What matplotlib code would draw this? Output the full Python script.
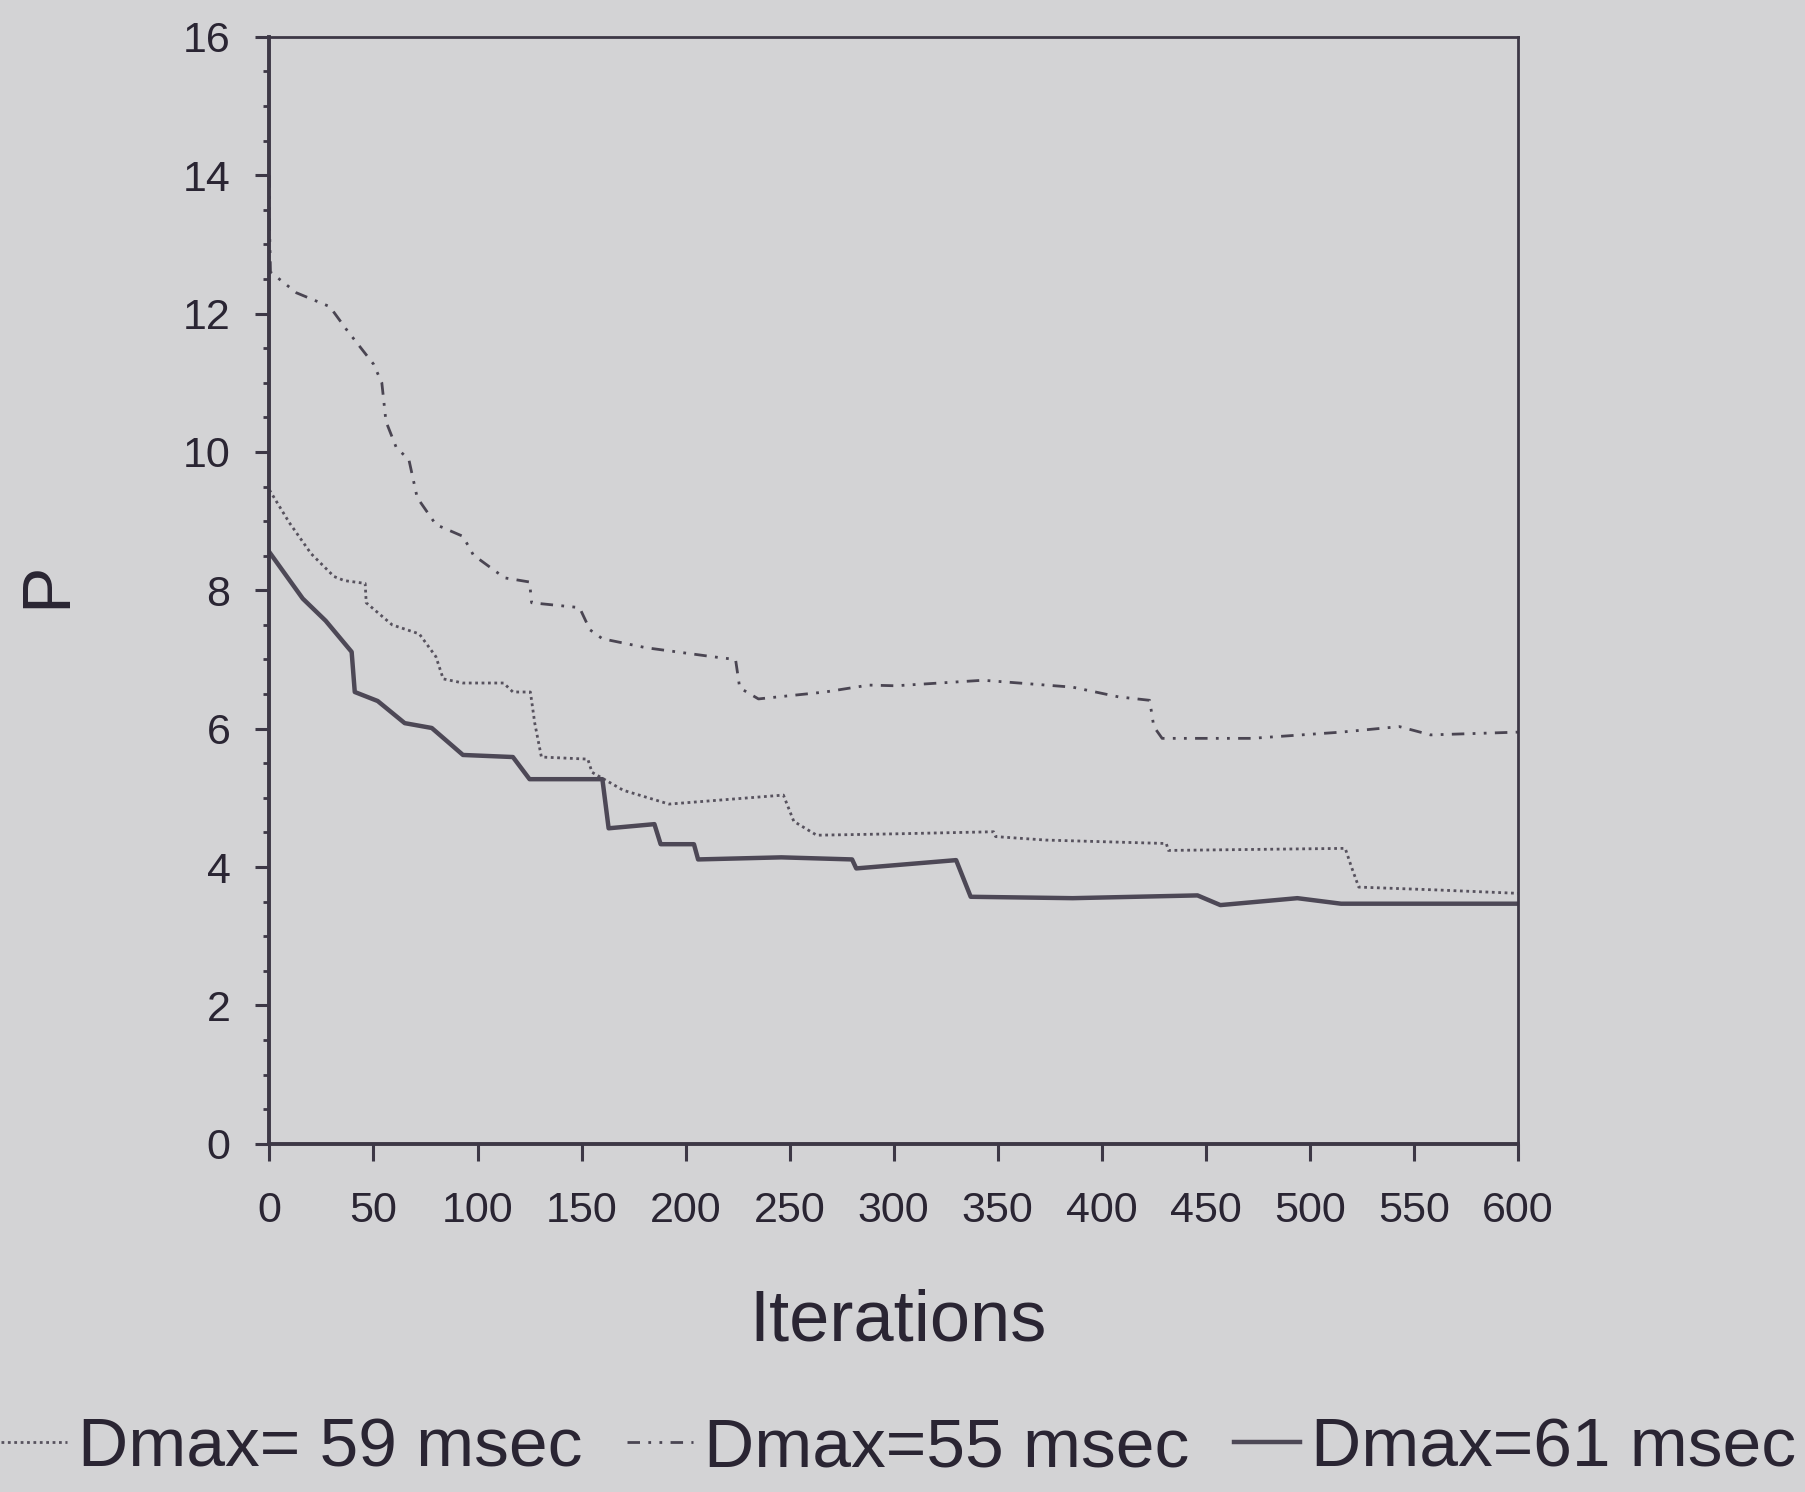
import matplotlib
matplotlib.use("Agg")
import matplotlib.pyplot as plt
from matplotlib.ticker import MultipleLocator

# ---------------- data ----------------
it_59 = [0, 9.5, 20, 31, 36, 46, 46.5, 59, 72, 80, 83.5, 93, 112.5, 117, 125.4,
         127.5, 130.7, 153, 155, 170, 192, 247, 252, 263, 301, 348, 349, 373,
         431, 432, 517, 520, 523.5, 560, 600]
p_59 = [9.45, 8.98, 8.53, 8.2, 8.14, 8.1, 7.82, 7.5, 7.37, 7.04, 6.72, 6.66,
        6.66, 6.53, 6.53, 6.08, 5.59, 5.56, 5.37, 5.11, 4.91, 5.04, 4.66, 4.46,
        4.48, 4.51, 4.44, 4.39, 4.34, 4.24, 4.27, 4.0, 3.71, 3.67, 3.62]

it_55 = [0, 0, 0.5, 13, 29, 37, 50, 54, 56, 61, 67, 71, 80, 93, 98, 113, 125,
         126, 149, 154, 160, 181, 213, 224, 226, 235, 267, 288, 301, 343, 386,
         408, 423, 425, 429, 472, 515, 543, 558, 600]
p_55 = [14.0, 13.3, 12.6, 12.3, 12.1, 11.77, 11.27, 11.0, 10.44, 10.06, 9.89,
        9.34, 8.95, 8.78, 8.51, 8.18, 8.12, 7.82, 7.75, 7.43, 7.3, 7.17, 7.04,
        7.0, 6.59, 6.43, 6.53, 6.63, 6.62, 6.70, 6.60, 6.46, 6.41, 6.03, 5.86,
        5.86, 5.95, 6.03, 5.91, 5.95]

it_61 = [0, 16, 27, 39.5, 41, 52, 65, 78, 93, 117, 125, 160, 163, 185, 188,
         204, 206, 246, 280, 282, 330, 337, 386, 446, 457, 494, 515, 600]
p_61 = [8.55, 7.88, 7.56, 7.11, 6.53, 6.40, 6.08, 6.01, 5.62, 5.59, 5.27, 5.27,
        4.56, 4.62, 4.33, 4.33, 4.11, 4.14, 4.11, 3.98, 4.10, 3.57, 3.55, 3.59,
        3.45, 3.55, 3.47, 3.47]

labels = ["Dmax= 59 msec", "Dmax=55 msec", "Dmax=61 msec"]
x_ticks = [0, 50, 100, 150, 200, 250, 300, 350, 400, 450, 500, 550, 600]
y_ticks = [0, 2, 4, 6, 8, 10, 12, 14, 16]

# ---------------- style ----------------
BG = "#d3d3d5"
INK = "#3d3846"
TXT = "#2a2533"
plt.rcParams["font.family"] = ["Liberation Sans", "DejaVu Sans"]

fig = plt.figure(figsize=(18.06, 14.92), dpi=100, facecolor=BG)
ax = fig.add_axes([0.1492, 0.2334, 0.6913, 0.7419])
ax.set_facecolor(BG)

l59, = ax.plot(it_59, p_59, color="#57525e", lw=2.0, linestyle=(0, (1, 1.3)))
l55, = ax.plot(it_55, p_55, color="#4a4552", lw=2.0,
               linestyle=(0, (4.5, 3, 1, 3, 1, 3)))
l61, = ax.plot(it_61, p_61, color="#4d4856", lw=3.2, linestyle="-")

ax.set_xlim(0, 600)
ax.set_ylim(0, 16)
ax.set_xticks(x_ticks)
ax.set_xticklabels([str(v) for v in x_ticks])
ax.set_yticks(y_ticks)
ax.set_yticklabels([str(v) for v in y_ticks])
ax.yaxis.set_minor_locator(MultipleLocator(0.5))

for s in ax.spines.values():
    s.set_color(INK)
    s.set_linewidth(2.0)
ax.spines["left"].set_linewidth(2.8)
ax.spines["bottom"].set_linewidth(2.8)

ax.tick_params(axis="x", which="major", direction="out", length=12, width=2.2,
               pad=22, labelsize=31, colors=INK)
ax.tick_params(axis="y", which="major", direction="out", length=10, width=2.2,
               pad=18, labelsize=31, colors=INK)
ax.tick_params(axis="y", which="minor", direction="out", length=4, width=2.0,
               colors=INK)
for lab in ax.get_xticklabels() + ax.get_yticklabels():
    lab.set_color(TXT)

fig.text(0.497, 0.114, "Iterations", ha="center", va="center", fontsize=52,
         color=TXT)
fig.text(0.026, 0.608, "P", ha="center", va="center", fontsize=50,
         rotation=90, color=TXT)

leg = fig.legend([l59, l55, l61], labels, loc="center", ncol=3,
                 bbox_to_anchor=(0.4975, 0.029), frameon=False, fontsize=50,
                 handlelength=0.95, handletextpad=0.15, columnspacing=0.65,
                 borderpad=0.0, borderaxespad=0.0)
for t in leg.get_texts():
    t.set_color(TXT)

fig.savefig("out.png", dpi=100, facecolor=BG)
